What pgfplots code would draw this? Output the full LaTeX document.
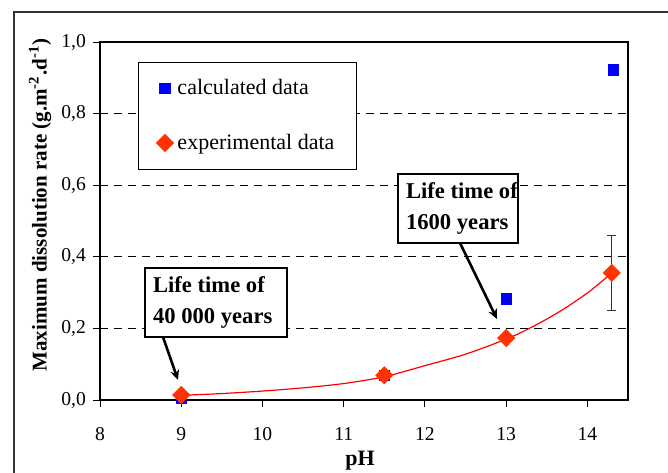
\documentclass[border=0pt]{standalone}
\usepackage{pgfplots}
\pgfplotsset{compat=1.18}
\usepackage{fontspec}
\setmainfont{Liberation Serif}
\usetikzlibrary{arrows.meta}
\definecolor{expc}{RGB}{255,51,0}
\definecolor{calc}{RGB}{0,0,255}
\begin{document}
\begin{tikzpicture}
\useasboundingbox (0pt,0pt) rectangle (334pt,-236pt);
\clip (0pt,0pt) rectangle (334pt,-236pt);
\begin{scope}[x=0.5pt,y=-0.5pt]
\draw[line width=1pt, black!80] (14,12) rectangle (700,520);
\end{scope}
\begin{axis}[
  at={(50pt,-200pt)}, anchor=south west,
  scale only axis, width=264pt, height=179pt,
  xmin=8, xmax=14.5, ymin=0, ymax=1,
  xtick={8,9,...,14}, ytick={0,0.2,0.4,0.6,0.8,1.0},
  ymajorgrids, grid style={dashed, black, line width=0.5pt, dash pattern=on 4pt off 3pt},
  axis line style={black, line width=0.7pt},
  tick align=outside, tick pos=left, major tick length=3.5pt,
  tick style={black, line width=0.5pt},
  /pgf/number format/assume math mode=true,
  ticklabel style={font=\fontsize{9.8}{12}\selectfont},
  yticklabel style={/pgf/number format/.cd, use comma, fixed, fixed zerofill, precision=1},
  xticklabel style={yshift=-6.5pt},
  legend style={at={(0.072,0.944)}, anchor=north west, draw=black, line width=0.5pt,
    font=\fontsize{11}{13}\selectfont, inner xsep=9pt, inner ysep=6.5pt, row sep=14pt,
    legend cell align=left},
  legend image code/.code={\draw[mark repeat=2,mark phase=2] plot coordinates {(0cm,0cm) (0.25cm,0cm) (0.5cm,0cm)};},
]
\addplot[only marks, mark=square*, mark size=2.6pt, color=calc] coordinates {
 (9,0.006) (11.5,0.068) (13,0.282) (14.32,0.922)};
\addlegendentry{calculated data}
\addplot[red, line width=0.6pt, smooth, forget plot] coordinates {
 (9,0.013) (9.5,0.018) (10,0.025) (10.5,0.034) (11,0.046) (11.5,0.065) (12,0.096) (12.5,0.128) (13,0.170) (13.25,0.196) (13.5,0.226) (13.75,0.260) (14,0.299) (14.15,0.326) (14.3,0.355)};
\addplot[forget plot, draw=none, mark=none, error bars/.cd, y dir=both, y explicit,
  error bar style={black!80, line width=0.5pt}, error mark options={rotate=90, mark size=2.3pt, black!80, line width=0.5pt}]
  coordinates {(14.3,0.355) +- (0,0.105)};
\addplot[only marks, mark=square*, mark size=3pt, mark options={rotate=45}, color=expc] coordinates {
 (9,0.014) (11.5,0.069) (13,0.173) (14.3,0.355)};
\addlegendentry{experimental data}
\end{axis}
\begin{scope}[x=0.5pt,y=-0.5pt]
\node[rotate=90, font=\bfseries\fontsize{10.5}{12}\selectfont] at (40,205) {Maximum dissolution rate (g.m\textsuperscript{-2}.d\textsuperscript{-1})};
\node[font=\bfseries\fontsize{11}{13}\selectfont] at (360,461) {pH};
\draw[fill=white, line width=0.7pt] (145,268) rectangle (287,337);
\node[anchor=west, font=\bfseries\fontsize{11.3}{14}\selectfont, align=left] at (146,302) {Life time of\\[1.5pt]40 000 years};
\draw[fill=white, line width=0.7pt] (398,174) rectangle (518,243);
\node[anchor=west, font=\bfseries\fontsize{11.3}{14}\selectfont, align=left] at (399,208) {Life time of\\[1.5pt]1600 years};
\draw[line width=1.3pt, -{Stealth[length=5pt,width=4.5pt]}] (163,337) -- (178,380);
\draw[line width=1.3pt, -{Stealth[length=5pt,width=4.5pt]}] (460,243) -- (497,319);
\end{scope}
\end{tikzpicture}
\end{document}
